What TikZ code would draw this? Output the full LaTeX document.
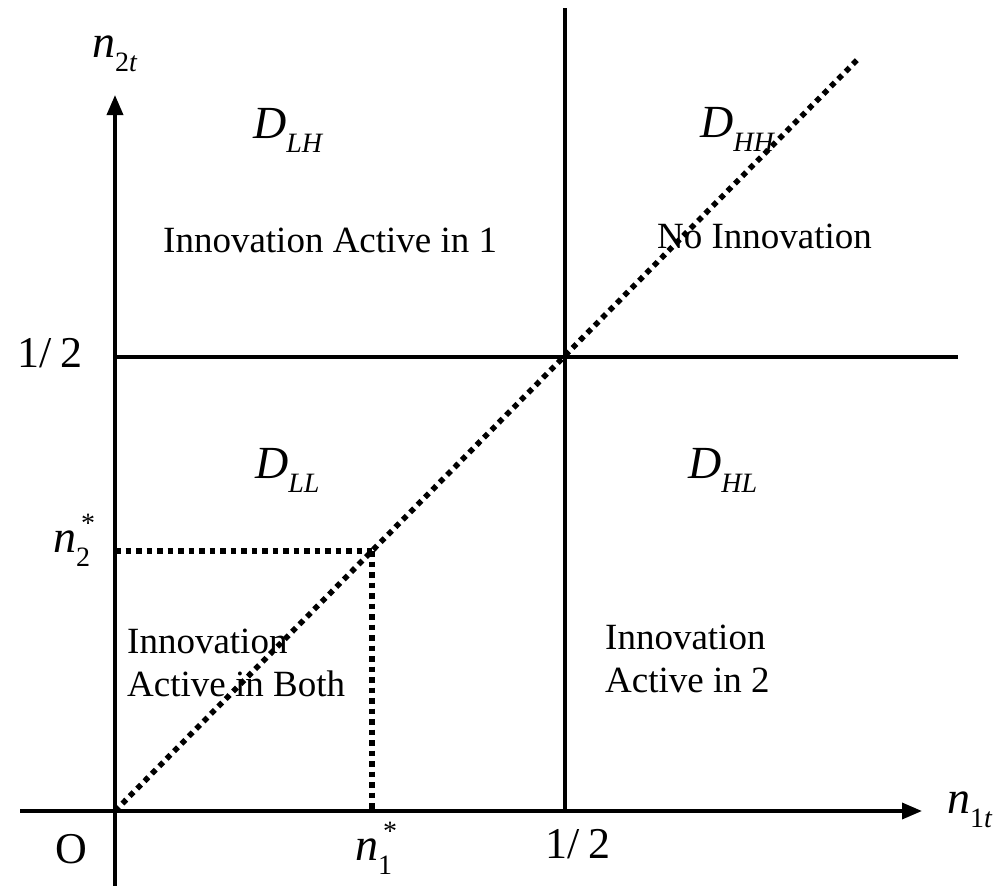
\documentclass[tikz,border=0pt]{standalone}
\usepackage{fontspec}
\setmainfont{Liberation Serif}
\usetikzlibrary{arrows.meta}
\newcommand{\subsz}{\fontsize{28}{28}\selectfont}
\newcommand{\msub}[2]{\textit{#1}\raisebox{-14pt}{\subsz #2}}
\newcommand{\mstar}[2]{\textit{#1}\rlap{\hspace{5pt}\raisebox{20pt}{\subsz *}}\raisebox{-14pt}{\subsz #2}}
\newcommand{\half}{1/\hspace{0.2em}2}
\begin{document}
\begin{tikzpicture}[x=1pt,y=-1pt,
  axis/.style={line width=3.5pt,-{Triangle[length=20pt,width=16pt]}},
  solid line/.style={line width=3.5pt},
  dotline/.style={line width=5.5pt,dash pattern=on 5.5pt off 5pt},
  mathlbl/.style={inner sep=0pt,anchor=base west,font=\fontsize{46}{46}\selectfont},
  numlbl/.style={inner sep=0pt,anchor=base west,font=\fontsize{44}{44}\selectfont},
  txt/.style={inner sep=0pt,anchor=base west,align=left,font=\fontsize{37}{43}\selectfont}]
\useasboundingbox (0,0) rectangle (1005,886);
% key points
\coordinate (O) at (115,811);
\coordinate (ybot) at (115,886);
\coordinate (ytip) at (115,95);
\coordinate (xleft) at (20,811);
\coordinate (xtip) at (922,811);
\coordinate (vtop) at (565,8);
\coordinate (vbot) at (565,811);
\coordinate (hleft) at (115,357);
\coordinate (hright) at (958,357);
\coordinate (diagend) at (860,57);
\coordinate (star) at (372,551);
\coordinate (staryax) at (115,551);
\coordinate (starxax) at (372,811);
% axes
\draw[axis] (ybot) -- (ytip);
\draw[axis] (xleft) -- (xtip);
% region boundaries
\draw[solid line] (vtop) -- (vbot);
\draw[solid line] (hleft) -- (hright);
% dotted lines
\draw[dotline] (O) -- (diagend);
\draw[dotline] (staryax) -- (star);
\draw[dotline] (star) -- (starxax);
% axis labels
\node[mathlbl] (n2t) at (92,57) {\msub{n}{2\textit{t}}};
\node[mathlbl] (n1t) at (947,813) {\msub{n}{1\textit{t}}};
\node[numlbl] (halfy) at (17,367) {\half};
\node[numlbl] (halfx) at (545,858) {\half};
\node[numlbl] (origin) at (55,863) {O};
\node[mathlbl] (n2s) at (53,552) {\mstar{n}{2}};
\node[mathlbl] (n1s) at (355,860) {\mstar{n}{1}};
% region labels
\node[mathlbl] (DLH) at (253,138) {\msub{D}{\textit{LH}}};
\node[mathlbl] (DHH) at (700,137) {\msub{D}{\textit{HH}}};
\node[mathlbl] (DLL) at (255,478) {\msub{D}{\textit{LL}}};
\node[mathlbl] (DHL) at (688,478) {\msub{D}{\textit{HL}}};
\node[txt] (t1) at (163,252) {Innovation Active in 1};
\node[txt] (t2) at (657,248) {No Innovation};
\node[txt] (t3) at (127,696) {Innovation\\Active in Both};
\node[txt] (t4) at (605,692) {Innovation\\Active in 2};
\end{tikzpicture}
\end{document}
